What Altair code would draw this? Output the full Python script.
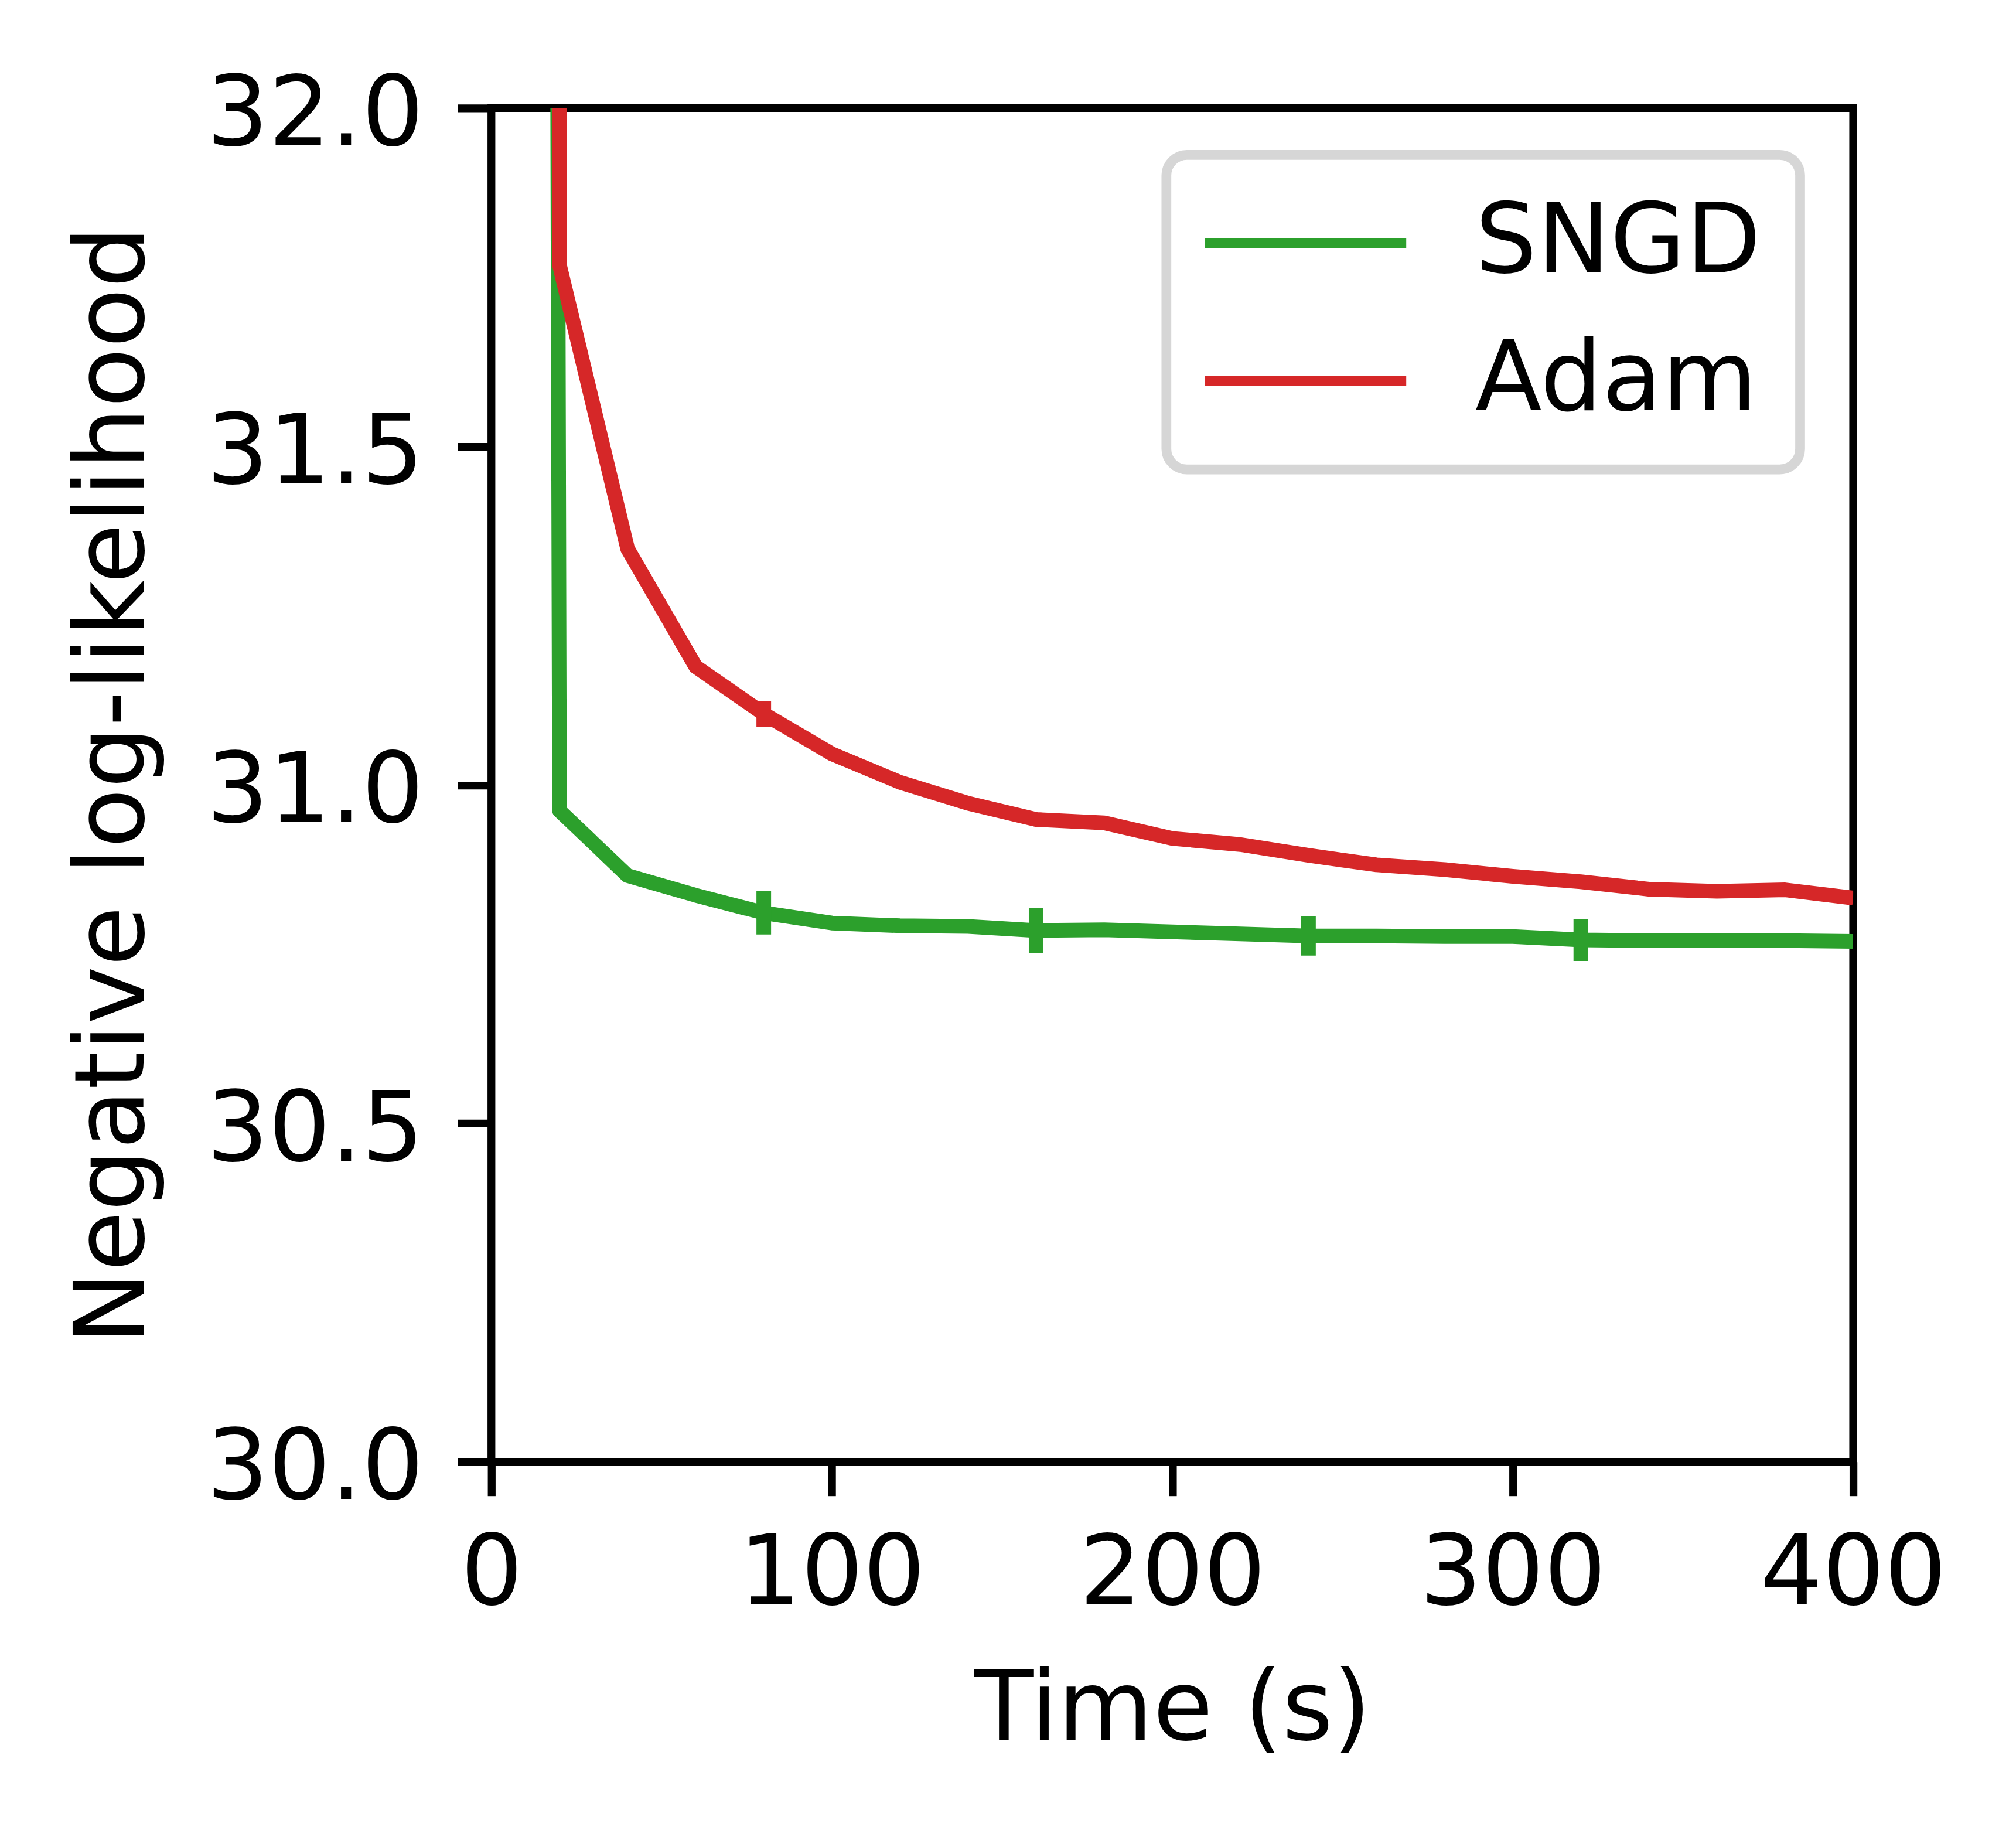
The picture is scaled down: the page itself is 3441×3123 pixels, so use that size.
import altair as alt
import pandas as pd

# ---- data ----
times = [0, 20, 40, 60, 80, 100, 120, 140, 160, 180, 200,
         220, 240, 260, 280, 300, 320, 340, 360, 380, 400]
sngd = [70.0, 30.962, 30.866, 30.837, 30.811, 30.796, 30.792, 30.791, 30.785, 30.786, 30.783,
        30.780, 30.777, 30.777, 30.776, 30.776, 30.771, 30.770, 30.770, 30.770, 30.769]
adam = [90.0, 31.768, 31.349, 31.175, 31.105, 31.046, 31.004, 30.973, 30.949, 30.944, 30.921,
        30.912, 30.896, 30.882, 30.875, 30.865, 30.857, 30.846, 30.843, 30.845, 30.833]

sngd_err_times = [80, 160, 240, 320]
sngd_err = [0.032, 0.033, 0.029, 0.031]
adam_err_times = [80]
adam_err = [0.019]

series_names = ["SNGD", "Adam"]
series_colors = ["#2ca02c", "#d62728"]
x_ticks = [0, 100, 200, 300, 400]
y_ticks = [30.0, 30.5, 31.0, 31.5, 32.0]

# ---- tables ----
rows = []
for t, v in zip(times, sngd):
    rows.append({"time": t, "nll": v, "series": "SNGD"})
for t, v in zip(times, adam):
    rows.append({"time": t, "nll": v, "series": "Adam"})
df = pd.DataFrame(rows)

erows = []
for t, e in zip(sngd_err_times, sngd_err):
    m = sngd[times.index(t)]
    erows.append({"time": t, "lo": m - e, "hi": m + e, "series": "SNGD"})
for t, e in zip(adam_err_times, adam_err):
    m = adam[times.index(t)]
    erows.append({"time": t, "lo": m - e, "hi": m + e, "series": "Adam"})
edf = pd.DataFrame(erows)

FS = 166.7
TICK = 58
AXW = 13.3
W, H = 2325, 2311

xenc = alt.X(
    "time:Q",
    scale=alt.Scale(domain=[0, 400], nice=False),
    axis=alt.Axis(
        values=x_ticks, format="d", title="Time (s)",
        labelFontSize=FS, labelPadding=184.7, labelBaseline="alphabetic",
        labelFlush=False, labelOverlap=False, labelColor="black", labelLimit=1000,
        tickSize=TICK, tickWidth=AXW, tickColor="black",
        domain=False, grid=False,
        titleFontSize=FS, titleFontWeight="normal", titleColor="black",
        titleBaseline="alphabetic", titleY=474, titleX=W / 2, titleAlign="center",
        titleLimit=3000,
    ),
)
yenc = alt.Y(
    "nll:Q",
    scale=alt.Scale(domain=[30, 32], nice=False, zero=False),
    axis=alt.Axis(
        values=y_ticks, format=".1f", title="Negative log-likelihood",
        labelFontSize=FS, labelPadding=58, labelBaseline="alphabetic", labelOffset=63,
        labelFlush=False, labelOverlap=False, labelColor="black", labelLimit=1000,
        tickSize=TICK, tickWidth=AXW, tickColor="black",
        domain=False, grid=False,
        titleFontSize=FS, titleFontWeight="normal", titleColor="black",
        titleAngle=270, titleBaseline="alphabetic", titleX=-594.6, titleY=H / 2,
        titleAlign="center", titleLimit=3000,
    ),
)

legend = alt.Legend(
    title=None, orient="none", legendX=1152.4, legendY=80, direction="vertical",
    padding=66, symbolType="stroke", symbolSize=122500, symbolStrokeWidth=16.7,
    symbolOffset=-15,
    clipHeight=170, rowPadding=65, labelOffset=109,
    labelFontSize=FS, labelLimit=3000, labelColor="black",
    strokeColor="#d6d6d6", cornerRadius=35, fillColor="white",
)
color = alt.Color(
    "series:N",
    scale=alt.Scale(domain=series_names, range=series_colors),
    legend=legend,
)

line_g = alt.Chart(df).transform_filter(alt.datum.series == "SNGD").mark_line(
    strokeWidth=25, strokeJoin="round", clip=True
).encode(x=xenc, y=yenc, color=color)

line_r = alt.Chart(df).transform_filter(alt.datum.series == "Adam").mark_line(
    strokeWidth=25, strokeJoin="round", clip=True
).encode(x=xenc, y=yenc, color=color)

errs = alt.Chart(edf).mark_rule(strokeWidth=25, strokeCap="butt", clip=True).encode(
    x=alt.X("time:Q"), y=alt.Y("lo:Q"), y2="hi:Q", color=color
)

chart = alt.layer(line_g, errs, line_r).properties(
    width=W, height=H,
    autosize=alt.AutoSizeParams(type="none"),
    padding={"left": 831, "top": 176, "right": 270, "bottom": 620},
    background="white",
).configure(font="DejaVu Sans").configure_view(
    stroke="black", strokeWidth=AXW
).configure_legend(strokeWidth=16.7)

chart.save("out.html", embed_options={"renderer": "svg", "actions": False})
